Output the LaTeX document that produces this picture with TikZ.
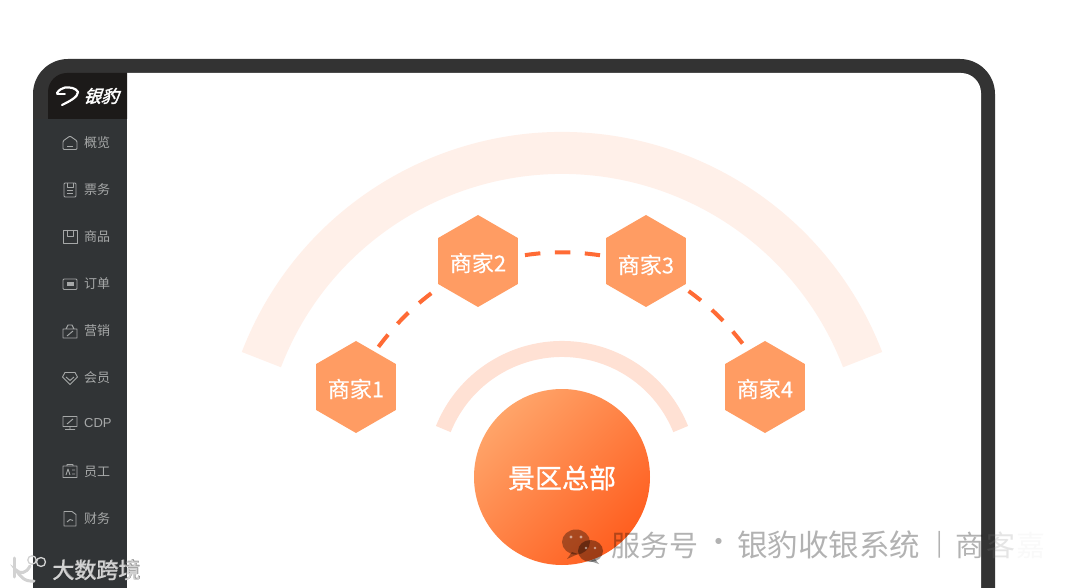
\documentclass[tikz,border=0pt]{standalone}
\usepackage{fontspec}
\usetikzlibrary{shapes.geometric}
\setmainfont{Noto Sans CJK SC}
\newfontfamily\cjkb[FakeBold=0.8]{Noto Sans CJK SC}
\newfontfamily\cjkm[FakeBold=0.25]{Noto Sans CJK SC}
\newfontfamily\cjklogo[FakeSlant=0.35,FakeBold=2]{Noto Sans CJK SC}
\newfontfamily\latinf{Liberation Sans}
\definecolor{framec}{HTML}{333333}
\definecolor{sidec}{HTML}{313436}
\definecolor{headc}{HTML}{1C1A19}
\definecolor{bigarc}{HTML}{FFF0E9}
\definecolor{smallarc}{HTML}{FFE1D4}
\definecolor{hexc}{HTML}{FF9C63}
\definecolor{dashc}{HTML}{FF6B35}
\definecolor{menuc}{HTML}{A6A8A8}
\definecolor{gradA}{HTML}{FFA469}
\definecolor{gradB}{HTML}{FF5F20}
\definecolor{wmgrey}{HTML}{D2D2D2}
\tikzset{
  x=1pt,y=1pt,
  hexnode/.style={regular polygon,regular polygon sides=6,shape border rotate=30,minimum size=92pt,inner sep=0pt,fill=hexc,text=white,text height=23pt,text depth=2.2pt,font=\cjkm\fontsize{22}{22}\selectfont},
  linkline/.style={draw=dashc,line width=4pt,dash pattern=on 15.5pt off 14.5pt},
  menutext/.style={anchor=west,inner sep=0pt,text=menuc,font=\fontsize{13}{13}\selectfont},
  ico/.style={draw=menuc,line width=0.9pt,line join=round},
  wmark/.style={anchor=west,inner sep=0pt,font=\fontsize{29}{30}\selectfont},
}
\begin{document}
\begin{tikzpicture}
\useasboundingbox (0,0) rectangle (1080,-588);
\clip (0,0) rectangle (1080,-588);
\fill[white] (0,0) rectangle (1080,-588);
% device frame
\fill[framec,rounded corners=35pt] (33,-59) rectangle (995,-640);
\fill[sidec] (33,-119) rectangle (127,-640);
\fill[white] (127,-640) -- (127,-73) -- (961,-73) arc[start angle=90,end angle=0,radius=20pt] -- (981,-640) -- cycle;
% sidebar head
\fill[headc] (67,-73) -- (127,-73) -- (127,-119) -- (48,-119) -- (48,-92) arc[start angle=180,end angle=90,radius=19pt] -- cycle;
% arcs
\draw[bigarc,line width=42pt] (562,-475) ++(159:322) arc[start angle=159,end angle=21,radius=322pt];
\draw[smallarc,line width=16pt] (562,-477) ++(158:128) arc[start angle=158,end angle=22,radius=128pt];
% hexagons
\node[hexnode] (h1) at (356,-387) {商家1};
\node[hexnode] (h2) at (478,-261) {商家2};
\node[hexnode,text height=27pt] (h3) at (646,-261) {商家3};
\node[hexnode] (h4) at (765,-387) {商家4};
\draw[linkline,shorten <=6pt,shorten >=8pt] (h1.62) to[bend left=8] (h2.214);
\draw[linkline,shorten <=7pt,shorten >=6pt] (h2.7) to[bend left=8] (h3.173);
\draw[linkline,shorten <=8pt,shorten >=6pt] (h3.-35) to[bend left=8] (h4.115);
% centre
\node[circle,minimum size=176pt,inner sep=0pt,left color=gradA,right color=gradB,shading angle=45,text=white,text height=25.6pt,text depth=3pt,font=\cjkb\fontsize{27}{27}\selectfont] (hq) at (562,-477) {景区总部};
% logo
\draw[white,line width=2.2pt,line cap=round,line join=round] (57,-93) .. controls (59,-90) and (62,-88) .. (65,-87.5) .. controls (70,-87) and (76,-88) .. (78,-92) .. controls (78,-97) and (70,-101) .. (62,-105);
\draw[white,line width=1.8pt,line cap=round] (57,-94) -- (65,-94);
\node[anchor=west,inner sep=0pt,text=white,font=\cjklogo\fontsize{17.5}{18}\selectfont] (logo) at (83,-96) {银豹};
% menu text
\node[menutext] (m1) at (84,-143) {概览};
\node[menutext] (m2) at (84,-190) {票务};
\node[menutext] (m3) at (84,-237) {商品};
\node[menutext] (m4) at (84,-284) {订单};
\node[menutext] (m5) at (84,-331) {营销};
\node[menutext] (m6) at (84,-378) {会员};
\node[menutext,font=\latinf\fontsize{13}{13}\selectfont] (m7) at (84,-423) {CDP};
\node[menutext] (m8) at (84,-472) {员工};
\node[menutext] (m9) at (84,-519) {财务};
% icons
\draw[ico,rounded corners=1pt] (63,-149.5) -- (63,-141) -- (70,-136) -- (77,-141) -- (77,-149.5) -- cycle;
\draw[ico] (67,-146) -- (73,-146);
\draw[ico,rounded corners=1pt] (64,-183) rectangle (76,-197);
\draw[ico] (67,-183) -- (67,-187) -- (73,-187) -- (73,-183) (67,-190.5) -- (73,-190.5) (67,-193.5) -- (73,-193.5);
\draw[ico] (63,-230) rectangle (77,-243);
\draw[ico] (67,-230) -- (67,-236) -- (73,-236) -- (73,-230);
\draw[ico,rounded corners=1pt] (63,-279) rectangle (77,-289.5);
\fill[menuc] (66.5,-282) rectangle (73.5,-286.5);
\draw[ico] (63,-329) -- (77,-329) -- (77,-338) -- (63,-338) -- cycle (66,-329) -- (68,-325) -- (72,-325) -- (74,-329) (67,-336) -- (73,-331);
\draw[ico] (70,-384.5) -- (62.5,-377) -- (65,-372.5) -- (75,-372.5) -- (77.5,-377) -- cycle (66,-377) -- (70,-380.5) -- (74,-377);
\draw[ico] (63,-416.5) rectangle (77,-426.5) (70,-426.5) -- (70,-429) (65,-429.5) -- (75,-429.5) (67,-424) -- (73,-419);
\draw[ico] (63,-466) rectangle (77,-477.5) (66,-475) -- (68,-469) -- (70,-475) (72,-470) -- (75,-470) (72,-474) -- (75,-474) (67,-466) -- (67,-464.5) -- (73,-464.5) -- (73,-466);
\draw[ico] (64,-511.5) -- (72,-511.5) -- (76,-514.5) -- (76,-526) -- (64,-526) -- cycle (67,-522) -- (70,-519.5) -- (73,-520.5);
% watermark right
\fill[black,opacity=0.34] (576,-542) ellipse[x radius=14,y radius=12.5];
\fill[black,opacity=0.34] (572,-552) -- (567,-559) -- (578,-554) -- cycle;
\fill[black,opacity=0.38] (590.5,-551) ellipse[x radius=12.5,y radius=11];
\fill[black,opacity=0.38] (595,-559) -- (599,-564) -- (590,-561) -- cycle;
\fill[white,opacity=0.5] (571,-537) circle[radius=1.6] (581,-537) circle[radius=1.6] (586,-548) circle[radius=1.4] (595,-548) circle[radius=1.4];
\node[wmark,text=black,opacity=0.3] (w1) at (611,-545) {服务号};
\node[wmark,text=black,opacity=0.3] (w2) at (704,-545) {·};
\node[wmark,text=black,opacity=0.3,font=\fontsize{30.5}{31}\selectfont] (w3) at (737,-545) {银豹收银系统};
\node[wmark,text=black,opacity=0.3,font=\fontsize{24}{24}\selectfont] (w4) at (936,-545) {|};
\node[wmark,text=black,opacity=0.3] (w5) at (955,-545) {商};
\node[wmark,text=gray,opacity=0.2] (w6) at (986,-545) {客};
\node[wmark,text=black,opacity=0.025] (w7) at (1016,-545) {嘉};
% watermark left
\draw[wmgrey,line width=3pt,line cap=round] (14,-558) -- (14,-577);
\draw[wmgrey,line width=3pt,line cap=round] (30,-566) .. controls (26,-574) and (20,-574) .. (16,-570) .. controls (20,-576) and (24,-582) .. (34,-581);
\draw[wmgrey,line width=1.3pt] (32,-560) circle[radius=4.2] (41,-562) circle[radius=4.5];
\node[anchor=west,inner sep=0pt,text=black!45,font=\cjkb\fontsize{22}{22}\selectfont] (w8) at (52.7,-569.4) {大数跨境};
\node[anchor=west,inner sep=0pt,text=wmgrey,font=\cjkm\fontsize{22}{22}\selectfont] (w9) at (52,-570) {大数跨境};
\end{tikzpicture}
\end{document}
